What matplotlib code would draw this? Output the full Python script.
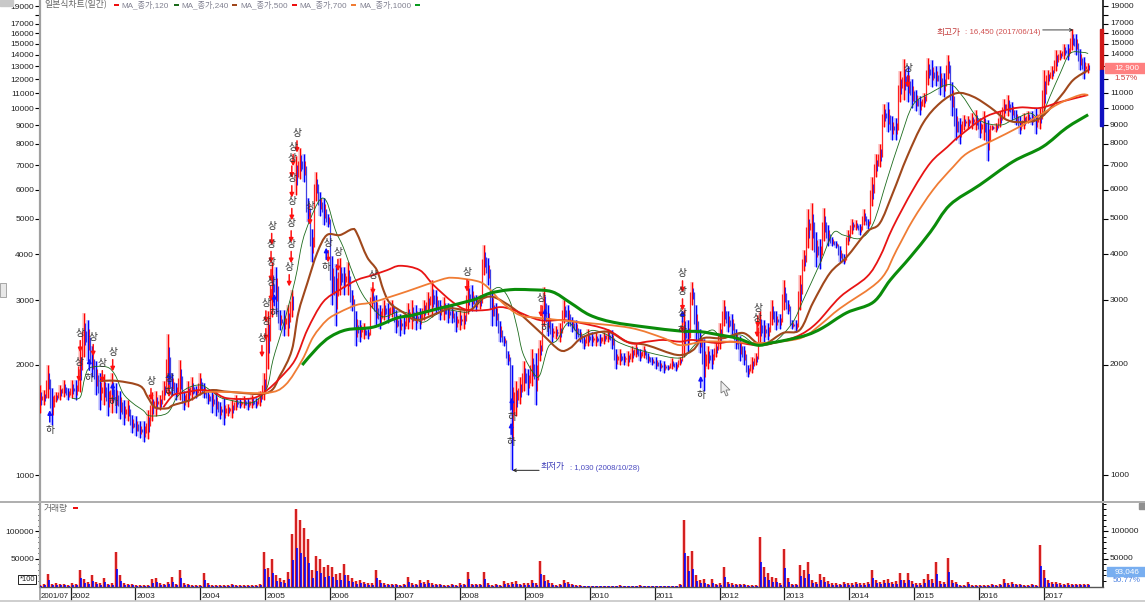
import numpy as np
import matplotlib
matplotlib.use('Agg')
import matplotlib.pyplot as plt
from matplotlib.lines import Line2D
from matplotlib.patches import PathPatch, Polygon, Rectangle
from matplotlib.path import Path
from matplotlib.transforms import offset_copy

plt.rcParams['font.family'] = ['Liberation Sans', 'Noto Sans CJK KR', 'DejaVu Sans']
KR = ['Noto Sans CJK KR', 'DejaVu Sans']

# price bars, one every four pixels or so
bar_high = [
    1760, 1705, 2000, 1730, 1680, 1760, 1815, 1730, 1815, 1820,
    2250, 2760, 2650, 2250, 2050, 1900, 1880, 1780, 1900, 1780,
    1700, 1600, 1600, 1460, 1450, 1400, 1400, 1500, 1680, 1700,
    1650, 1800, 2420, 1900, 1780, 2060, 1700, 1800, 1850, 1750,
    1900, 1780, 1700, 1720, 1700, 1580, 1620, 1560, 1600, 1650,
    1620, 1640, 1620, 1650, 1620, 1700, 1900, 2800, 3800, 3700,
    2820, 2820, 2900, 3200, 7400, 7800, 7500, 5700, 4700, 6700,
    5900, 5700, 5150, 3950, 3750, 3900, 3700, 3800, 3200, 2800,
    2650, 2600, 2500, 3250, 3100, 2900, 3000, 2950, 3000, 2820,
    2750, 2700, 2950, 3000, 2900, 2850, 3000, 3150, 3400, 3200,
    3000, 3050, 2950, 2900, 2800, 2820, 2800, 3400, 3300, 3100,
    3100, 4250, 3900, 3200, 2950, 2630, 2400, 2180, 2000, 1800,
    1850, 2050, 1950, 2200, 2150, 2330, 3250, 2900, 2600, 2550,
    2600, 3000, 2900, 2700, 2650, 2500, 2400, 2500, 2450, 2450,
    2420, 2450, 2500, 2480, 2200, 2200, 2150, 2180, 2250, 2280,
    2200, 2250, 2150, 2100, 2100, 2060, 2050, 2000, 2080, 2030,
    2100, 2820, 2650, 3350, 2900, 2500, 2350, 2250, 2200, 2300,
    2600, 3000, 2800, 2750, 2500, 2400, 2250, 2000, 2100, 2150,
    2800, 2650, 2600, 3000, 2800, 2750, 3400, 3000, 2650, 2650,
    3500, 4100, 5300, 5500, 4600, 4400, 5350, 4800, 4450, 4350,
    4200, 4000, 4650, 5000, 4950, 4850, 5300, 5000, 6500, 7500,
    8000, 10300, 10400, 9500, 9400, 12600, 13600, 13000, 12000, 11200,
    10800, 11000, 13700, 13500, 13000, 13000, 12500, 14000, 11800, 10000,
    9400, 9600, 9500, 9700, 9900, 9400, 9800, 9300, 9000, 9100,
    9800, 10600, 10900, 10400, 9900, 9500, 9700, 9800, 9800, 10000,
    10000, 12700, 12700, 13000, 14400, 14400, 15000, 15000, 16450, 15900,
    14500, 13800, 13300,
]
bar_low = [
    1480, 1550, 1620, 1370, 1580, 1600, 1630, 1600, 1620, 1600,
    1680, 2100, 2050, 1850, 1650, 1500, 1550, 1450, 1480, 1480,
    1420, 1370, 1400, 1300, 1280, 1260, 1230, 1250, 1400, 1450,
    1500, 1600, 1690, 1650, 1600, 1600, 1500, 1530, 1600, 1620,
    1650, 1620, 1560, 1480, 1450, 1420, 1370, 1450, 1430, 1500,
    1520, 1520, 1500, 1520, 1520, 1540, 1600, 1950, 2700, 2750,
    2480, 2400, 2400, 2700, 5800, 6400, 6300, 4900, 3800, 5600,
    5100, 4800, 4750, 2900, 2550, 3100, 3100, 3100, 2800, 2250,
    2300, 2350, 2350, 2850, 2550, 2500, 2650, 2600, 2700, 2440,
    2400, 2430, 2500, 2500, 2490, 2500, 2650, 2730, 2700, 2750,
    2650, 2650, 2600, 2600, 2450, 2480, 2500, 2750, 2800, 2800,
    2830, 3500, 3300, 2550, 2550, 2300, 2250, 2000, 1030, 1450,
    1560, 1700, 1650, 1750, 1550, 2050, 2550, 2400, 2300, 2350,
    2300, 2600, 2550, 2450, 2350, 2300, 2200, 2250, 2250, 2250,
    2250, 2280, 2300, 2200, 1950, 2000, 2000, 1980, 2030, 2100,
    2050, 2080, 2020, 1990, 1950, 1920, 1900, 1930, 1950, 1920,
    2000, 2100, 2150, 2900, 2300, 2150, 1700, 1950, 1950, 2100,
    2200, 2550, 2450, 2400, 2200, 2050, 2000, 1850, 1900, 2000,
    2260, 2300, 2330, 2560, 2480, 2500, 2820, 2740, 2500, 2450,
    2820, 3600, 4150, 4100, 3700, 3650, 4350, 4200, 4200, 4150,
    3800, 3750, 4250, 4550, 4650, 4500, 4800, 4700, 5400, 6500,
    6900, 8900, 8600, 8200, 8200, 10400, 10500, 10400, 10000, 9800,
    9600, 10100, 11600, 11400, 11500, 10900, 10700, 12000, 9500, 8200,
    8000, 8700, 8800, 8800, 8700, 8300, 8200, 7200, 8700, 8600,
    8900, 9400, 9500, 9300, 9000, 8500, 8800, 9100, 9000, 8500,
    8800, 9600, 11600, 12000, 12600, 13500, 13600, 13500, 14400, 14000,
    12700, 12000, 12500,
]
bar_volume = [
    3000, 5000, 23000, 4000, 6000, 4000, 5000, 3000, 6000, 4000,
    29000, 14000, 8000, 20000, 9000, 6000, 15000, 5000, 7000, 62000,
    20000, 6000, 5000, 4000, 3000, 2000, 2000, 2000, 14000, 15000,
    6000, 4000, 8000, 18000, 5000, 30000, 6000, 4000, 3000, 2000,
    3000, 24000, 7000, 3000, 2000, 2000, 2000, 2000, 5000, 2000,
    2000, 2000, 2000, 2000, 3000, 5000, 63000, 33000, 50000, 20000,
    16000, 12000, 26000, 95000, 140000, 120000, 105000, 85000, 30000, 56000,
    50000, 35000, 38000, 35000, 22000, 25000, 41000, 20000, 16000, 10000,
    12000, 8000, 6000, 6000, 29000, 12000, 6000, 5000, 4000, 5000,
    3000, 4000, 17000, 6000, 5000, 12000, 9000, 12000, 6000, 5000,
    4000, 3000, 2000, 4000, 3000, 6000, 4000, 26000, 5000, 4000,
    5000, 26000, 6000, 3000, 4000, 3000, 10000, 6000, 8000, 10000,
    5000, 6000, 6000, 11000, 7000, 46000, 20000, 12000, 6000, 3000,
    4000, 11000, 9000, 5000, 2000, 2000, 1500, 1500, 1500, 1500,
    1000, 1000, 1500, 1000, 1000, 2000, 1000, 1000, 1500, 1000,
    3000, 1000, 1000, 1000, 1000, 1000, 1000, 1000, 1000, 1000,
    5000, 120000, 55000, 65000, 20000, 12000, 14000, 5000, 14000, 5000,
    6000, 35000, 8000, 6000, 4000, 5000, 4000, 3000, 2000, 3000,
    90000, 36000, 25000, 18000, 15000, 6000, 68000, 15000, 5000, 4000,
    38000, 30000, 44000, 12000, 8000, 22000, 18000, 10000, 6000, 6000,
    5000, 8000, 6000, 7000, 9000, 6000, 7000, 8000, 30000, 12000,
    8000, 12000, 14000, 8000, 10000, 25000, 12000, 24000, 10000, 6000,
    6000, 13000, 22000, 14000, 45000, 10000, 9000, 51000, 12000, 8000,
    3000, 3000, 8000, 3000, 2000, 2000, 3000, 3000, 5000, 3000,
    5000, 13000, 6000, 8000, 5000, 4000, 3000, 3000, 4000, 3000,
    75000, 30000, 12000, 9000, 8000, 6000, 5000, 6000, 5000, 5000,
    5000, 4000, 4000,
]

# moving averages, read as (year, price)
ma120_years = [2002.02, 2002.15, 2002.22, 2002.30, 2002.56, 2002.69, 2002.81, 2002.96, 2003.12, 2003.22, 2003.49,
               2003.64, 2003.80, 2004.00, 2004.15, 2004.30, 2004.46, 2004.72, 2004.87, 2005.03, 2005.12, 2005.27,
               2005.46, 2005.57, 2005.69, 2005.84, 2005.95, 2006.08, 2006.20, 2006.35, 2006.49, 2006.66, 2006.82,
               2007.03, 2007.19, 2007.42, 2007.62, 2007.80, 2008.11, 2008.26, 2008.46, 2008.62, 2008.77, 2008.88,
               2008.97, 2009.13, 2009.23, 2009.36, 2009.50, 2009.67, 2009.85, 2010.05, 2010.27, 2010.47, 2010.88,
               2011.39, 2011.59, 2011.75, 2011.90, 2012.05, 2012.32, 2012.52, 2012.73, 2012.89, 2013.13, 2013.29,
               2013.55, 2013.75, 2013.91, 2014.17, 2014.37, 2014.58, 2014.78, 2014.98, 2015.25, 2015.55, 2015.75,
               2016.01, 2016.32, 2016.52, 2016.78, 2016.94, 2017.09, 2017.25, 2017.40, 2017.60, 2017.68]
ma120_vals = [1620, 1630, 1840, 1960, 1970, 1870, 1670, 1570, 1500, 1450, 1475,
              1630, 1725, 1760, 1705, 1630, 1600, 1570, 1600, 1735, 2060, 2530,
              3400, 4300, 4960, 5620, 5550, 4660, 4190, 3550, 3130, 2850, 2700,
              2780, 2765, 2610, 2730, 2820, 2780, 2910, 3150, 3240, 2980, 2530,
              2150, 1900, 1870, 2230, 2335, 2600, 2410, 2480, 2410, 2290, 2165,
              2085, 2235, 2410, 2485, 2365, 2410, 2290, 2260, 2335, 2610, 3000,
              3780, 4570, 4510, 4420, 4860, 6375, 8195, 10200, 11000, 11600, 10750,
              9290, 9000, 9290, 9700, 9400, 10750, 12460, 14100, 14200, 14100]

ma240_years = [2002.45, 2002.72, 2003.07, 2003.19, 2003.30, 2003.49, 2003.58, 2003.84, 2004.04, 2004.20, 2004.46,
               2005.03, 2005.23, 2005.41, 2005.51, 2005.65, 2005.80, 2005.95, 2006.15, 2006.34, 2006.41, 2006.57,
               2006.72, 2006.82, 2006.92, 2007.12, 2007.34, 2007.69, 2007.85, 2008.16, 2008.31, 2008.51, 2008.82,
               2009.08, 2009.28, 2009.54, 2009.70, 2009.90, 2010.27, 2010.57, 2010.88, 2011.35, 2011.59, 2011.75,
               2012.05, 2012.36, 2012.58, 2012.73, 2012.98, 2013.24, 2013.44, 2013.70, 2013.96, 2014.27, 2014.47,
               2014.67, 2014.89, 2015.14, 2015.40, 2015.66, 2015.91, 2016.17, 2016.43, 2016.68, 2016.94, 2017.25,
               2017.45, 2017.68]
ma240_vals = [1805, 1805, 1750, 1630, 1530, 1520, 1550, 1600, 1675, 1705, 1685,
              1675, 1870, 2190, 2765, 3340, 4030, 4510, 4510, 4680, 4570, 3930,
              3620, 3200, 2945, 2780, 2645, 2780, 2850, 2820, 3000, 3060, 2850,
              2600, 2410, 2190, 2220, 2380, 2460, 2310, 2260, 2125, 2190, 2360,
              2360, 2440, 2290, 2290, 2440, 2490, 2950, 3550, 3930, 4600, 4860,
              5870, 7370, 9130, 10340, 11000, 10750, 10060, 9290, 9170, 9400, 10750,
              11940, 12700]

ma500_years = [2003.43, 2003.58, 2003.73, 2004.00, 2004.20, 2004.41, 2004.81, 2005.03, 2005.23, 2005.46, 2005.65,
               2005.89, 2006.15, 2006.41, 2006.66, 2006.88, 2007.08, 2007.38, 2007.59, 2007.89, 2008.11, 2008.42,
               2008.62, 2008.82, 2009.23, 2009.59, 2009.85, 2010.27, 2010.62, 2010.88, 2011.13, 2011.39, 2011.59,
               2011.96, 2012.20, 2012.58, 2012.93, 2013.24, 2013.50, 2013.86, 2014.27, 2014.47, 2014.67, 2014.98,
               2015.25, 2015.51, 2015.68, 2016.06, 2016.32, 2016.63, 2016.94, 2017.25, 2017.68]
ma500_vals = [1530, 1650, 1675, 1705, 1685, 1620, 1620, 1705, 1840, 2060, 2490,
              2960, 3200, 3400, 3510, 3620, 3720, 3620, 3300, 2960, 2820, 2820,
              2870, 2820, 2645, 2645, 2600, 2490, 2290, 2310, 2335, 2310, 2335,
              2290, 2310, 2260, 2310, 2410, 2600, 3060, 3470, 3930, 4730, 5990,
              7100, 7840, 8350, 9390, 9790, 10050, 10020, 10400, 10870]

ma700_years = [2004.07, 2004.41, 2005.03, 2005.31, 2005.57, 2005.74, 2005.95, 2006.15, 2006.41, 2006.66, 2007.19,
               2007.69, 2007.89, 2008.26, 2008.42, 2008.66, 2008.92, 2009.23, 2009.85, 2010.62, 2011.13, 2011.39,
               2011.75, 2012.11, 2012.62, 2013.13, 2013.35, 2013.59, 2013.86, 2014.47, 2014.73, 2014.98, 2015.29,
               2015.60, 2015.82, 2016.22, 2016.59, 2016.94, 2017.25, 2017.56, 2017.68]
ma700_vals = [1685, 1685, 1675, 1760, 2060, 2380, 2645, 2780, 2910, 2960, 3170,
              3400, 3450, 3380, 3260, 2945, 2730, 2680, 2610, 2520, 2365, 2260,
              2310, 2310, 2290, 2335, 2410, 2600, 2850, 3400, 4110, 4960, 5990,
              6920, 7550, 8190, 8840, 9590, 10340, 10870, 10870]

ma1000_years = [2005.57, 2005.80, 2006.00, 2006.26, 2006.66, 2007.03, 2007.28, 2007.69, 2008.20, 2008.46, 2008.77,
                2009.08, 2009.42, 2009.70, 2010.00, 2010.36, 2010.88, 2011.39, 2011.70, 2012.00, 2012.27, 2012.58,
                2012.78, 2013.04, 2013.35, 2013.59, 2013.96, 2014.37, 2014.63, 2014.94, 2015.25, 2015.55, 2016.01,
                2016.52, 2016.98, 2017.35, 2017.68]
ma1000_vals = [1995, 2220, 2380, 2490, 2530, 2680, 2730, 2850, 3000, 3130, 3200,
               3200, 3160, 2950, 2730, 2610, 2530, 2470, 2460, 2410, 2360, 2260,
               2290, 2335, 2410, 2520, 2770, 2960, 3400, 3930, 4600, 5450, 6180,
               7150, 7850, 8850, 9600]

# signal labels on the price panel
up_years = [2002.15, 2002.35, 2002.13, 2002.49, 2002.65, 2003.24, 2003.52, 2005.49, 2005.43, 2005.41, 2005.41, 2005.41,
            2005.40, 2005.40, 2005.37, 2005.10, 2005.09, 2005.09, 2005.09, 2005.01, 2005.01, 2004.95, 2005.69, 2005.97,
            2006.12, 2006.66, 2008.11, 2009.25, 2011.43, 2011.43, 2011.43, 2012.59, 2012.58, 2014.90]
up_prices = [2440, 2380, 2030, 2020, 2165, 1805, 1840, 8550, 7850, 7300, 6450, 5590,
             4860, 4270, 3690, 4780, 4270, 3810, 3360, 2940, 2630, 2365, 5430, 4290,
             4060, 3510, 3570, 3040, 3550, 3170, 2760, 2850, 2680, 12860]
down_years = [2001.68, 2002.29, 2002.65, 2003.52, 2005.14, 2005.94, 2009.31, 2008.80, 2008.79, 2011.43, 2011.71]
down_prices = [1330, 1840, 1580, 1685, 2760, 3690, 2520, 1440, 1230, 2490, 1650]

price_ticks = [1000, 2000, 3000, 4000, 5000, 6000, 7000, 8000, 9000, 10000, 11000, 12000,
               13000, 14000, 15000, 16000, 17000, 18000, 19000]
price_labels = ['1000', '2000', '3000', '4000', '5000', '6000', '7000', '8000', '9000', '10000', '11000', '12000',
                '13000', '14000', '15000', '16000', '17000', '', '19000']
right_hidden = ['12000', '13000']
volume_ticks = [50000, 100000]
volume_labels = ['50000', '100000']
year_ticks = list(range(2002, 2018))
ma_names = ['MA_종가,120', 'MA_종가,240', 'MA_종가,500', 'MA_종가,700', 'MA_종가,1000']
ma_colors = ['#1c6b1c', '#a0481c', '#e81414', '#f07c34', '#0a8c0a']

W, H = 1145, 603
TICK_FS = 6.0


def pxx(x):
    return x / W


def pxy(y):
    return 1 - y / H


def ftext(x, y, s, **kw):
    kw.setdefault('va', 'center')
    kw.setdefault('color', '#444444')
    kw.setdefault('fontsize', 6)
    return fig.text(pxx(x), pxy(y), s, **kw)


def fline(x0, y0, x1, y1, color, lw):
    fig.add_artist(Line2D([pxx(x0), pxx(x1)], [pxy(y0), pxy(y1)], color=color, lw=lw * 0.72,
                          solid_capstyle='butt'))


def frect(x0, y0, x1, y1, **kw):
    fig.add_artist(Rectangle((pxx(x0), pxy(y1)), (x1 - x0) / W, (y1 - y0) / H, transform=fig.transFigure, **kw))


def smooth_path(years, vals):
    # Catmull-Rom through the read points, in log price
    p = np.column_stack([years, np.log(vals)])
    q = np.vstack([p[0], p, p[-1]])
    verts = [p[0]]
    codes = [Path.MOVETO]
    for i in range(1, len(q) - 2):
        verts += [q[i] + (q[i + 1] - q[i - 1]) / 6, q[i + 1] - (q[i + 2] - q[i]) / 6, q[i + 1]]
        codes += [Path.CURVE4] * 3
    verts = np.array(verts)
    verts[:, 1] = np.exp(verts[:, 1])
    return Path(verts, codes)


fig = plt.figure(figsize=(W / 100, H / 100), dpi=100)
ax = fig.add_axes([pxx(40), pxy(501), (1103 - 40) / W, 501 / H])
ax_vol = fig.add_axes([pxx(40), pxy(587), (1103 - 40) / W, (587 - 503) / H], sharex=ax)

bar_high = np.array(bar_high, dtype=float)
bar_low = np.array(bar_low, dtype=float)
bar_volume = np.array(bar_volume, dtype=float)
bar_x = 2001.53 + np.arange(len(bar_high)) * 4 / 64.9
mid = (bar_high + bar_low) / 2
up = np.r_[True, mid[1:] >= mid[:-1]]
colors = np.where(up, '#ff0000', '#0000ff')
other = np.where(up, '#0000ff', '#ff0000')

# soft halo, then the bar, then a short piece in the other colour
ax.vlines(bar_x, bar_low, bar_high, colors=colors, lw=2.6, alpha=0.22, zorder=2)
ax.vlines(bar_x, bar_low, bar_high, colors=colors, lw=0.9, zorder=3)
ax.vlines(bar_x + 0.012, np.sqrt(bar_low * mid), np.sqrt(bar_high * mid), colors=other, lw=0.8, alpha=0.8, zorder=3)

# pieces between neighbouring bars so the run reads as one trace
join_x = (bar_x[:-1] + bar_x[1:]) / 2
join_lo = np.minimum(mid[:-1], mid[1:])
join_hi = np.maximum(mid[:-1], mid[1:])
near = join_hi / join_lo < 1.5
join_pad = 0.06 * (bar_high[:-1] - bar_low[:-1])
ax.vlines(join_x[near], (join_lo - join_pad)[near], (join_hi + join_pad)[near],
          colors=np.where(up[1:], '#ff0000', '#2020e0')[near], lw=0.9, alpha=0.85, zorder=3)

for yrs, vals, c, w in zip([ma120_years, ma240_years, ma500_years, ma700_years, ma1000_years],
                           [ma120_vals, ma240_vals, ma500_vals, ma700_vals, ma1000_vals],
                           ma_colors, [0.6, 1.5, 1.3, 1.3, 2.2]):
    ax.add_patch(PathPatch(smooth_path(yrs, vals), fill=False, edgecolor=c, lw=w, zorder=4))

ax.set_yscale('log')
ax.set_xlim(2001.53, 2017.909)
ax.set_ylim(849.6, 19730)
ax.set_yticks(price_ticks)
ax.set_yticklabels(price_labels, fontsize=TICK_FS, color='#222222')
ax.minorticks_off()
ax.tick_params(axis='y', which='major', left=True, right=True, labelleft=True, labelright=False, length=3.4, width=0.8, pad=0.8)
ax.tick_params(axis='x', bottom=False, labelbottom=False)
for t, lbl in zip(price_ticks, price_labels):
    if lbl and lbl not in right_hidden:
        ax.annotate(lbl, xy=(1, t), xycoords=('axes fraction', 'data'), xytext=(5, 0), textcoords='offset points',
                    ha='left', va='center', fontsize=TICK_FS, color='#222222')
for s in ['top', 'bottom']:
    ax.spines[s].set_visible(False)
ax.spines['left'].set_color('#a0a0a0')
ax.spines['left'].set_linewidth(1.6)
ax.spines['right'].set_color('black')
ax.spines['right'].set_linewidth(1.1)

# signals
for yr, p in zip(up_years, up_prices):
    ax.annotate('상', (yr, p), ha='center', va='center', fontsize=7, family=KR, color='#333333', zorder=6)
    ax.annotate('', xy=(yr, p), xycoords=offset_copy(ax.transData, fig=fig, y=-14, units='points'),
                xytext=(yr, p), textcoords=offset_copy(ax.transData, fig=fig, y=-5.5, units='points'), zorder=5,
                arrowprops=dict(arrowstyle='-|>', color='#ff1010', lw=1.1, shrinkA=0, shrinkB=0, mutation_scale=6))
for yr, p in zip(down_years, down_prices):
    ax.annotate('하', (yr, p), ha='center', va='center', fontsize=7, family=KR, color='#333333', zorder=6)
    ax.annotate('', xy=(yr, p), xycoords=offset_copy(ax.transData, fig=fig, y=14, units='points'),
                xytext=(yr, p), textcoords=offset_copy(ax.transData, fig=fig, y=5.5, units='points'), zorder=5,
                arrowprops=dict(arrowstyle='-|>', color='#1010ff', lw=1.1, shrinkA=0, shrinkB=0, mutation_scale=6))

# high and low callouts
ax.annotate('', xy=(2017.45, 16350), xytext=(2016.98, 16350),
            arrowprops=dict(arrowstyle='->', color='#222222', lw=0.6, shrinkA=0, shrinkB=0, mutation_scale=5))
ax.annotate('', xy=(2008.81, 1030), xytext=(2009.22, 1030),
            arrowprops=dict(arrowstyle='->', color='#222222', lw=0.7, shrinkA=0, shrinkB=0, mutation_scale=5))
ftext(937, 32, '최고가', family=KR, color='#c23a3a', fontsize=6.3)
ftext(965, 32, ': 16,450 (2017/06/14)', color='#d05050', fontsize=5.7)
ftext(541, 467, '최저가', family=KR, color='#3a3ab8', fontsize=6.3)
ftext(570, 468, ': 1,030 (2008/10/28)', color='#4a4ac0', fontsize=5.6)

# volume
ax_vol.vlines(bar_x, 0, bar_volume, colors='#ff0000', lw=2.6, alpha=0.28, zorder=2)
ax_vol.vlines(bar_x, 0, bar_volume, colors='#d01010', lw=1.3, zorder=3)
ax_vol.vlines(bar_x + 0.012, 0, bar_volume * 0.5, colors='#0000ff', lw=1.2, zorder=4)
ax_vol.set_ylim(-900, 151000)
ax_vol.set_yticks(volume_ticks)
ax_vol.set_yticklabels(volume_labels, fontsize=TICK_FS, color='#222222')
ax_vol.set_yticks(np.arange(10000, 150001, 10000), minor=True)
ax_vol.tick_params(axis='y', which='major', left=True, right=True, labelleft=True, labelright=False, length=3.4, width=0.8, pad=0.8)
ax_vol.tick_params(axis='y', which='minor', left=True, right=True, length=1.8, width=0.7)
for t, lbl in zip(volume_ticks, volume_labels):
    ax_vol.annotate(lbl, xy=(1, t), xycoords=('axes fraction', 'data'), xytext=(5, 0), textcoords='offset points',
                    ha='left', va='center', fontsize=TICK_FS, color='#222222')
ax_vol.set_xticks(year_ticks)
ax_vol.tick_params(axis='x', length=9.4, width=0.9, labelbottom=False, color='#222222')
ax_vol.spines['top'].set_visible(False)
ax_vol.spines['bottom'].set_color('#555555')
ax_vol.spines['bottom'].set_linewidth(1.0)
ax_vol.spines['left'].set_color('#a0a0a0')
ax_vol.spines['left'].set_linewidth(1.6)
ax_vol.spines['right'].set_color('black')
ax_vol.spines['right'].set_linewidth(1.1)
for yr in year_ticks:
    ax_vol.annotate(str(yr), xy=(yr, 0), xycoords=('data', 'axes fraction'), xytext=(0.7, -6.5),
                    textcoords='offset points', ha='left', va='center', fontsize=TICK_FS, color='#222222')
ftext(41, 596, '2001/07', fontsize=TICK_FS - 0.3, color='#222222')

# panel rules
fline(0, 501.5, W, 501.5, '#b0b0b0', 2)
fline(0, 600.5, W, 600.5, '#c0c0c0', 1.5)
fline(40, 587, 40, 600, '#909090', 1.5)

# legend row
ftext(44, 4.5, '일본식차트(일간)', family=KR, fontsize=6.4, color='#666666')
dash_x = [114, 174, 232, 292, 351, 415]
dash_c = ['#ee1010', '#1c6b1c', '#a0481c', '#ee1010', '#f07c34', '#0a9c20']
name_x = [121, 181, 240, 299, 359]
for x0, c in zip(dash_x, dash_c):
    fline(x0, 4.5, x0 + 5, 4.5, c, 2)
for x0, name in zip(name_x, ma_names):
    ftext(x0, 4.5, name, fontsize=5.9, color='#808090')
ftext(44, 508, '거래량', family=KR, fontsize=6.3, color='#666666')
fline(73, 508, 78, 508, '#ee1010', 2)

# right side price readout
frect(1100, 29, 1103, 70, color='#d01818')
frect(1100, 70, 1103, 126, color='#1010c0')
frect(1105, 63, 1145, 73, color='#ff8080')
ftext(1114, 68, '12,900', color='white', fontsize=5.9)
ftext(1114, 78, '1.57%', color='#d03a3a', fontsize=5.9)
frect(1107, 567, 1145, 576, color='#78aef0')
ftext(1115, 571.5, '93,046', color='white', fontsize=5.9)
ftext(1113, 581, '50.77%', color='#4a80e0', fontsize=5.9)

# scale box, small buttons, cursor
frect(18, 575, 36, 584, fc='white', ec='#222222', lw=0.7, zorder=5)
ftext(20, 579.5, '*100', fontsize=5.4, color='#222222', zorder=6)
frect(0, 0, 13, 6, color='#c8c8c8')
frect(0, 283, 6, 297, fc='#e8e8e8', ec='#888888', lw=0.5)
frect(1139, 503, 1145, 509, color='#909090')
cursor = [(721, 381), (721, 393), (724, 391), (726, 396), (728, 395), (726, 390), (730, 390)]
fig.add_artist(Polygon([(pxx(a), pxy(b)) for a, b in cursor], closed=True, fc='#eeeeee', ec='#777777', lw=0.6,
                       transform=fig.transFigure))

fig.savefig('out.png', dpi=100)
